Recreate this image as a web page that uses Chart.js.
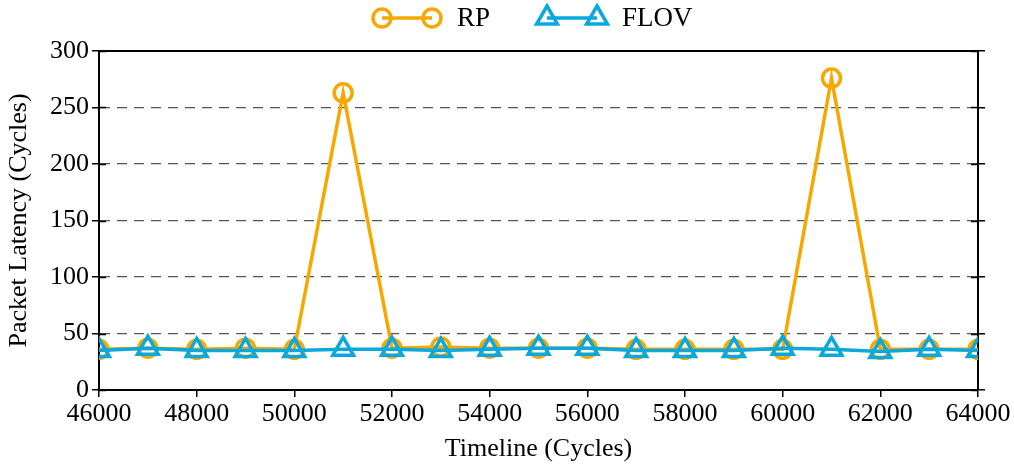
<!DOCTYPE html>
<html>
<head>
<meta charset="utf-8">
<script src="https://cdn.jsdelivr.net/npm/chart.js@4.4.0/dist/chart.umd.min.js"></script>
<style>
  html, body { margin: 0; padding: 0; background: #fff; }
  #wrap { width: 1014px; height: 469px; }
</style>
</head>
<body>
<div id="wrap"><canvas id="myChart" width="1014" height="469"></canvas></div>
<script>
// timeline in cycles
var timeline = [46000, 47000, 48000, 49000, 50000, 51000, 52000, 53000, 54000, 55000,
                56000, 57000, 58000, 59000, 60000, 61000, 62000, 63000, 64000];
var rpLatency   = [36, 37, 36, 37, 36, 263, 37, 38, 37, 37, 37, 36, 36, 36, 36, 276, 36, 36, 36];
var flovLatency = [35, 37, 35, 35, 35, 36, 36, 35, 36, 37, 37, 35, 35, 35, 37, 36, 34, 36, 35];
var seriesNames = ["RP", "FLOV"];
var yTicks = [0, 50, 100, 150, 200, 250, 300];

var FONT = "'Liberation Serif', 'Times New Roman', serif";
var ORANGE = "#F5A800";
var BLUE = "#0AA8DC";

function toPoints(vals) {
    return timeline.map(function (t, i) { return { x: t, y: vals[i] }; });
}

// frame, inner ticks and the top legend
var framePlugin = {
    id: "frame",
    afterDraw: function (chart) {
        var ctx = chart.ctx;
        var a = chart.chartArea;
        var ys = chart.scales.y;
        ctx.save();
        ctx.strokeStyle = "#000";
        ctx.setLineDash([]);
        ctx.lineWidth = 2;
        ctx.beginPath();
        ctx.moveTo(a.left - 1, a.top);
        ctx.lineTo(a.right + 1, a.top);
        ctx.stroke();
        ctx.lineWidth = 1.5;
        yTicks.forEach(function (v) {
            var py = Math.round(ys.getPixelForValue(v)) + 0.5;
            ctx.beginPath();
            ctx.moveTo(a.left, py);
            ctx.lineTo(a.left + 7, py);
            ctx.moveTo(a.right - 7, py);
            ctx.lineTo(a.right, py);
            ctx.stroke();
        });

        // legend
        var items = [
            { x: 382, ds: chart.data.datasets[0] },
            { x: 547, ds: chart.data.datasets[1] }
        ];
        var ly = 18;
        items.forEach(function (it) {
            ctx.strokeStyle = it.ds.borderColor;
            ctx.fillStyle = "rgba(0,0,0,0)";
            ctx.lineWidth = 3.5;
            ctx.beginPath();
            ctx.moveTo(it.x, ly);
            ctx.lineTo(it.x + 50, ly);
            ctx.stroke();
            [it.x, it.x + 50].forEach(function (mx) {
                ctx.fillStyle = "rgba(0,0,0,0)";
                ctx.lineWidth = 3.5;
                Chart.helpers.drawPoint(ctx, {
                    pointStyle: it.ds.pointStyle,
                    radius: it.ds.pointRadius,
                    borderWidth: 3.5
                }, mx, ly);
            });
            ctx.fillStyle = "#000";
            ctx.font = "27px " + FONT;
            ctx.textBaseline = "middle";
            ctx.textAlign = "left";
            ctx.fillText(it.ds.label, it.x + 75, ly + 1);
        });
        ctx.restore();
    }
};

var ctx = document.getElementById("myChart").getContext("2d");
var myChart = new Chart(ctx, {
    type: "line",
    data: {
        datasets: [
            {
                label: seriesNames[0],
                data: toPoints(rpLatency),
                order: 2,
                borderColor: ORANGE,
                backgroundColor: "rgba(0,0,0,0)",
                pointBorderColor: ORANGE,
                pointBackgroundColor: "rgba(0,0,0,0)",
                pointStyle: "circle",
                pointRadius: 9,
                pointBorderWidth: 3.5,
                borderWidth: 3.5,
                tension: 0
            },
            {
                label: seriesNames[1],
                data: toPoints(flovLatency),
                order: 1,
                borderColor: BLUE,
                backgroundColor: "rgba(0,0,0,0)",
                pointBorderColor: BLUE,
                pointBackgroundColor: "rgba(0,0,0,0)",
                pointStyle: "triangle",
                pointRadius: 12,
                pointBorderWidth: 3.5,
                borderWidth: 3.5,
                tension: 0
            }
        ]
    },
    options: {
        responsive: false,
        animation: false,
        layout: { padding: { top: 51, left: 0, right: 0, bottom: 0 } },
        plugins: {
            legend: { display: false },
            tooltip: { enabled: false }
        },
        scales: {
            x: {
                type: "linear",
                min: 46000,
                max: 64000,
                ticks: {
                    stepSize: 2000,
                    color: "#000",
                    font: { family: FONT, size: 26 },
                    maxRotation: 0,
                    padding: 2,
                    callback: function (v) { return String(v); }
                },
                grid: { drawOnChartArea: false, color: "#000", tickLength: 7, lineWidth: 1.5 },
                border: { color: "#000", width: 2 },
                title: {
                    display: true,
                    text: "Timeline (Cycles)",
                    color: "#000",
                    font: { family: FONT, size: 26 },
                    padding: { top: 0 }
                },
                afterFit: function (scale) { scale.height = 79; }
            },
            y: {
                min: 0,
                max: 300,
                afterBuildTicks: function (scale) {
                    scale.ticks = yTicks.map(function (v) { return { value: v }; });
                },
                ticks: {
                    color: "#000",
                    font: { family: FONT, size: 26 },
                    padding: 3
                },
                grid: {
                    color: function (c) { return (c.tick && (c.tick.value === 0 || c.tick.value === 300)) ? "rgba(0,0,0,0)" : "#555"; },
                    lineWidth: 1.3,
                    tickLength: 7,
                    tickColor: "#000",
                    tickBorderDash: [1, 0],
                    tickWidth: 1.5
                },
                border: { color: "#000", width: 2, dash: [10, 7] },
                title: {
                    display: true,
                    text: "Packet Latency (Cycles)",
                    color: "#000",
                    font: { family: FONT, size: 26 },
                    padding: { bottom: 0 }
                },
                afterFit: function (scale) { scale.width = 99; }
            },
            y2: {
                position: "right",
                min: 0,
                max: 300,
                afterBuildTicks: function (scale) {
                    scale.ticks = yTicks.map(function (v) { return { value: v }; });
                },
                ticks: { display: false },
                grid: { drawOnChartArea: false, color: "#000", tickLength: 7, lineWidth: 1.5 },
                border: { color: "#000", width: 2 },
                afterFit: function (scale) { scale.width = 36; }
            }
        }
    },
    plugins: [framePlugin]
});
</script>
</body>
</html>
